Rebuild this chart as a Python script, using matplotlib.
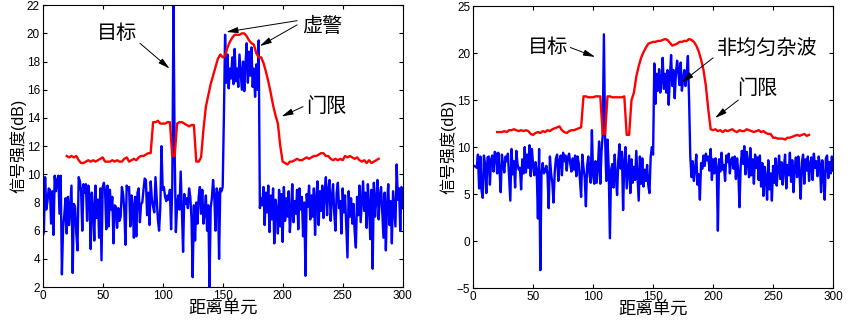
import numpy as np
import matplotlib
matplotlib.use('Agg')
import matplotlib.pyplot as plt

plt.rcParams['font.family'] = ['Liberation Sans', 'Noto Sans CJK SC', 'DejaVu Sans']

# ---- left panel: signal (every range cell 0..300) ----
left_signal = [
    5.6, 5.9, 9.8, 7.5, 8.1, 9.0, 8.9, 6.5, 8.8, 5.7,
    9.9, 8.8, 9.6, 9.9, 7.2, 9.9, 2.9, 6.2, 7.1, 8.3,
    5.8, 8.4, 6.4, 7.8, 9.2, 3.0, 7.9, 7.7, 5.8, 4.6,
    9.8, 9.5, 8.8, 6.0, 9.3, 8.7, 9.3, 6.7, 9.2, 8.5,
    4.7, 8.7, 7.6, 5.3, 9.2, 6.9, 8.2, 5.5, 9.0, 3.9,
    9.1, 9.4, 8.8, 6.1, 9.2, 6.3, 8.9, 7.5, 8.4, 5.1,
    7.8, 7.7, 6.2, 7.6, 6.7, 7.0, 9.1, 8.6, 7.5, 5.0,
    9.2, 8.9, 9.1, 6.3, 8.5, 7.8, 5.5, 8.4, 5.6, 8.7,
    9.0, 6.6, 7.9, 8.0, 8.9, 9.7, 9.6, 7.1, 8.7, 6.4,
    9.5, 8.2, 7.7, 7.3, 9.8, 8.3, 6.8, 6.0, 7.6, 12.0,
    8.9, 9.1, 8.4, 8.1, 8.5, 8.2, 8.9, 6.1, 9.2, 22.0,
    11.5, 5.9, 7.8, 8.5, 7.5, 10.2, 7.5, 4.5, 8.6, 7.9,
    8.3, 7.6, 9.0, 8.4, 6.9, 2.7, 7.8, 5.3, 8.0, 6.5,
    8.4, 9.1, 7.2, 8.9, 6.5, 7.3, 8.5, 6.0, 7.8, 2.0,
    7.6, 8.3, 9.6, 8.5, 6.0, 9.0, 8.7, 4.0, 9.0, 8.8,
    9.1, 14.0, 19.9, 16.5, 18.5, 16.1, 17.5, 16.8, 18.3, 16.4,
    18.9, 16.6, 17.5, 16.2, 18.5, 17.3, 16.0, 18.0, 15.9, 17.8,
    19.3, 16.5, 18.7, 17.0, 19.0, 16.2, 17.5, 15.5, 17.8, 16.0,
    19.5, 7.6, 8.3, 7.8, 9.1, 6.4, 8.7, 7.3, 9.2, 5.9,
    8.5, 6.8, 9.0, 5.1, 8.2, 7.5, 5.8, 8.9, 6.3, 8.6,
    5.2, 9.1, 6.7, 8.3, 7.0, 8.8, 5.9, 7.4, 9.3, 6.6,
    8.1, 7.2, 8.9, 6.1, 9.0, 7.5, 8.4, 5.6, 8.0, 2.8,
    8.6, 7.7, 9.2, 6.8, 8.5, 7.0, 9.0, 5.7, 8.3, 9.5,
    6.4, 8.8, 7.4, 9.2, 6.9, 8.6, 9.8, 7.1, 8.9, 9.6,
    6.7, 8.4, 9.3, 7.2, 6.0, 8.7, 9.4, 7.6, 8.1, 5.8,
    9.0, 7.3, 8.5, 6.2, 4.1, 8.8, 7.0, 8.3, 6.5, 7.9,
    5.9, 4.8, 8.4, 7.1, 9.2, 6.6, 8.0, 9.5, 7.4, 8.7,
    6.2, 9.3, 7.8, 5.4, 8.9, 3.3, 9.4, 7.0, 8.2, 9.6,
    6.8, 8.5, 9.1, 7.3, 5.5, 8.7, 4.6, 7.9, 9.3, 6.4,
    8.1, 5.1, 8.8, 7.5, 6.3, 10.7, 8.2, 9.0, 6.0, 9.1,
    7.6,
]

# ---- left panel: threshold (cells 20..280, every 2nd) ----
left_thresh = [
    11.3, 11.2, 11.3, 11.2, 11.3, 11.0,
    10.8, 10.8, 10.9, 11.0, 10.9,
    11.0, 10.9, 11.0, 11.1, 11.2,
    10.9, 10.9, 10.9, 11.0, 10.9,
    11.0, 10.9, 10.9, 11.1, 11.2,
    10.9, 11.0, 11.1, 11.0, 11.2,
    11.3, 11.3, 11.4, 11.5, 11.5,
    13.7, 13.7, 13.8, 13.6, 13.6,
    13.6, 13.7, 13.7, 11.3, 11.3,
    13.6, 13.7, 13.7, 13.6, 13.5,
    13.4, 13.5, 13.5, 10.9, 10.9,
    11.2, 13.2, 14.8, 15.6, 16.4,
    17.0, 17.6, 18.2, 18.5, 18.3,
    18.4, 19.0, 19.4, 19.7, 19.9,
    19.9, 19.9, 20.0, 20.0, 19.8,
    19.5, 19.3, 19.2, 18.6, 18.3,
    18.3, 17.9, 17.3, 16.6, 15.8,
    14.9, 14.2, 13.6, 12.0, 10.9,
    10.8, 10.7, 10.9, 10.9, 11.0,
    11.1, 11.0, 11.0, 11.1, 11.2,
    11.1, 11.2, 11.3, 11.3, 11.4,
    11.5, 11.5, 11.3, 11.3, 11.1,
    11.0, 11.1, 11.0, 11.1, 11.0,
    11.3, 11.2, 11.3, 11.2, 11.1,
    11.2, 11.0, 10.9, 11.0, 10.8,
    11.0, 10.8, 10.9, 11.0, 11.1,
]

# ---- right panel: signal (0..300) ----
right_signal = [
    8.0, 8.0, 7.9, 7.8, 9.2, 5.6, 9.0, 5.4, 4.6, 9.1,
    8.2, 5.1, 8.9, 9.0, 6.0, 8.7, 9.1, 7.4, 9.5, 9.3,
    7.2, 9.4, 7.6, 5.2, 9.2, 8.1, 7.3, 9.0, 8.5, 9.3,
    6.9, 4.3, 9.8, 7.1, 8.5, 5.7, 9.6, 8.2, 7.6, 7.8,
    5.5, 8.7, 7.2, 10.0, 7.3, 9.2, 7.8, 10.2, 6.9, 9.8,
    8.1, 7.0, 8.4, 7.5, 2.4, 9.8, -3.1, 7.3, 8.3, 7.2,
    7.4, 8.0, 7.1, 3.5, 9.0, 7.2, 6.2, 4.1, 7.3, 8.8,
    9.2, 6.4, 8.6, 9.1, 7.0, 9.4, 8.5, 9.1, 7.5, 8.9,
    9.3, 8.2, 7.4, 8.8, 7.6, 9.1, 6.9, 9.0, 8.3, 6.6,
    4.7, 9.2, 7.8, 6.8, 3.7, 8.0, 9.0, 7.1, 6.2, 11.8,
    7.0, 6.1, 8.5, 6.2, 7.9, 10.6, 6.1, 9.5, 11.3, 22.0,
    11.0, 6.4, 10.8, 7.8, 0.3, 7.6, 8.2, 5.7, 9.2, 6.8,
    4.9, 8.6, 10.3, 7.7, 9.5, 3.3, 8.4, 10.0, 5.6, 7.3,
    9.1, 5.1, 8.7, 6.2, 7.9, 6.5, 9.6, 7.0, 4.3, 9.0,
    6.1, 8.8, 5.8, 7.6, 6.4, 8.1, 5.9, 5.1, 9.0, 10.0,
    9.2, 18.9, 14.6, 17.8, 16.0, 18.3, 15.8, 17.0, 19.5, 16.2,
    17.8, 15.8, 18.2, 14.5, 17.5, 19.8, 16.5, 18.2, 15.2, 17.8,
    19.2, 18.0, 16.6, 19.0, 16.0, 17.2, 18.2, 16.5, 17.8, 19.7,
    15.0, 9.0, 6.8, 8.5, 6.4, 7.6, 9.2, 6.0, 7.1, 4.4,
    8.3, 7.7, 9.1, 8.0, 9.3, 8.6, 9.0, 7.5, 9.8, 6.5,
    8.7, 7.2, 8.8, 7.8, 1.1, 8.7, 7.4, 9.4, 7.6, 8.1,
    6.4, 9.1, 8.4, 9.3, 7.2, 8.6, 8.9, 7.7, 9.0, 6.6,
    8.8, 7.4, 3.6, 8.0, 9.6, 8.2, 10.1, 7.1, 9.5, 8.3,
    6.8, 9.9, 7.0, 8.7, 6.1, 9.2, 7.8, 8.9, 6.5, 9.1,
    5.8, 8.3, 4.8, 7.9, 6.7, 4.4, 8.6, 5.5, 7.2, 4.3,
    8.0, 6.2, 8.8, 5.9, 7.6, 9.1, 6.6, 8.4, 6.0, 7.8,
    9.2, 5.6, 8.1, 7.0, 9.4, 6.3, 8.6, 5.2, 7.7, 8.9,
    6.8, 9.0, 7.3, 4.5, 8.4, 9.2, 6.1, 8.7, 7.5, 9.0,
    6.4, 8.2, 8.9, 6.5, 9.3, 7.8, 8.5, 6.9, 9.0, 8.2,
    5.2, 8.6, 7.0, 4.4, 8.8, 9.1, 6.7, 8.4, 7.2, 9.0,
    7.5,
]

# ---- right panel: threshold (cells 20..280, every 2nd) ----
right_thresh = [
    11.6, 11.6, 11.6, 11.7, 11.6, 11.8,
    11.8, 11.9, 11.8, 11.7, 11.8,
    11.7, 11.8, 11.7, 11.4, 11.3,
    11.5, 11.6, 11.5, 11.7, 11.6,
    11.8, 11.7, 11.9, 12.0, 12.1,
    12.2, 11.8, 11.6, 11.5, 11.7,
    11.8, 11.8, 11.9, 12.0, 12.1,
    15.4, 15.4, 15.3, 15.3, 15.3,
    15.4, 15.4, 15.4, 11.4, 11.4,
    15.4, 15.4, 15.3, 15.3, 15.3,
    15.3, 15.3, 15.4, 11.3, 11.3,
    15.0, 15.8, 17.5, 18.6, 19.5,
    20.1, 20.6, 21.0, 21.1, 21.2,
    21.2, 21.3, 21.3, 21.4, 21.5,
    21.4, 21.1, 20.8, 20.9, 21.0,
    21.2, 21.2, 21.3, 21.3, 21.5,
    21.4, 21.2, 20.8, 20.2, 19.3,
    18.2, 16.5, 14.0, 11.9, 11.8,
    11.9, 11.7, 11.8, 11.6, 11.8,
    11.7, 11.8, 11.9, 11.7, 11.6,
    11.8, 11.7, 11.7, 11.9, 11.8,
    11.7, 11.6, 11.7, 11.8, 11.6,
    11.7, 11.5, 11.4, 11.4, 11.0,
    11.0, 10.9, 10.9, 10.9, 10.8,
    11.0, 11.0, 11.1, 11.2, 11.3,
    11.2, 11.3, 11.4, 11.2, 11.3,
]

cells = np.arange(len(left_signal))
thresh_cells = np.arange(20, 20 + 2 * len(left_thresh), 2)

arrow = dict(arrowstyle='-|>,head_length=0.7,head_width=0.18', color='black',
             lw=0.7, shrinkA=0, shrinkB=0)


def style_axes(ax, ylim, yticks):
    ax.set_xlim(0, 300)
    ax.set_ylim(*ylim)
    ax.set_xticks(np.arange(0, 301, 50))
    ax.set_yticks(yticks)
    ax.tick_params(direction='in', top=True, right=True, length=3, labelsize=8.5, pad=2)
    for s in ax.spines.values():
        s.set_linewidth(0.8)
    ax.set_xlabel('距离单元', fontsize=12.5, labelpad=-1)
    ax.set_ylabel('信号强度(dB)', fontsize=11.5, labelpad=0)


def label_with_arrows(ax, text, pos, arrows):
    ax.text(pos[0], pos[1], text, fontsize=14.5, ha='center', va='center')
    for tail, head in arrows:
        ax.annotate('', xy=head, xytext=tail, arrowprops=arrow)


fig = plt.figure(figsize=(8.54, 3.24), dpi=100)

# left panel
ax1 = fig.add_axes([0.050, 0.114, 0.4215, 0.870])
ax1.plot(cells, left_signal, color='#0000ff', lw=1.7)
ax1.plot(thresh_cells, left_thresh, color='#ff0000', lw=1.7)
style_axes(ax1, (2, 22), np.arange(2, 23, 2))

label_with_arrows(ax1, '目标', (62, 20.0), [((81, 19.3), (105.8, 17.5))])
label_with_arrows(ax1, '虚警', (233, 20.5), [((212, 20.9), (153, 20.1)),
                                            ((212, 20.6), (181, 19.1))])
label_with_arrows(ax1, '门限', (236, 14.8), [((217, 14.8), (199, 14.1))])

# right panel
ax2 = fig.add_axes([0.554, 0.111, 0.4215, 0.870])
ax2.plot(cells, right_signal, color='#0000ff', lw=1.7)
ax2.plot(thresh_cells, right_thresh, color='#ff0000', lw=1.7)
style_axes(ax2, (-5, 25), np.arange(-5, 26, 5))

label_with_arrows(ax2, '目标', (62, 20.6), [((81, 20.6), (101.7, 19.6))])
label_with_arrows(ax2, '非均匀杂波', (245, 20.4), [((200, 19.5), (174, 16.9))])
label_with_arrows(ax2, '门限', (237, 16.2), [((221, 15.0), (201.7, 13.1))])

fig.savefig('out.png', dpi=100)
